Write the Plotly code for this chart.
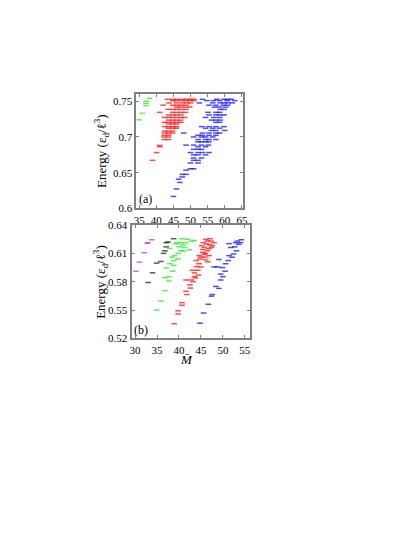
import plotly.graph_objects as go

# ---------------- panel (a) data ----------------
a_green_x = [35, 36, 37, 37, 37, 38]
a_green_y = [0.724, 0.733, 0.744, 0.747, 0.750, 0.754]

a_red_x = [43.3, 44.9, 46.1, 47.6, 48.9, 50.0, 51.0,
           44.8, 45.9, 47.4, 48.7, 49.8, 51.0,
           43.7, 45.9, 47.6, 48.9, 50.0,
           42.0, 44.8, 46.1, 47.4, 48.7,
           45.9, 47.1, 48.5, 49.8,
           43.5, 44.8, 45.9, 47.2, 48.7,
           41.0, 44.8, 46.1, 47.2, 48.5,
           43.6, 44.9, 45.9, 47.2,
           42.4, 43.6, 44.8, 45.9, 47.2, 48.3,
           43.6, 44.8, 45.9, 47.1,
           42.4, 43.6, 44.8, 46.1, 47.2,
           43.6, 44.8, 45.9,
           42.4, 43.6, 44.8, 45.9,
           43.5, 44.8, 45.9,
           42.4, 43.6, 44.8,
           42.4, 43.6, 44.8,
           42.3, 43.6,
           42.3, 43.6,
           42.3, 43.6,
           41.0, 41.0, 40.1, 38.9]
a_red_y = [0.7527] * 7 + [0.7509] * 6 + [0.7477] * 5 + [0.7445] * 5 + [0.7418] * 4 + \
          [0.7386] * 5 + [0.7345] * 5 + [0.7309] * 4 + [0.7273] * 6 + [0.7236] * 4 + \
          [0.7205] * 5 + [0.7182] * 3 + [0.7145] * 4 + [0.7123] * 3 + [0.7082] * 3 + \
          [0.7055] * 3 + [0.7023] * 2 + [0.7000] * 2 + [0.6964] * 2 + \
          [0.6882, 0.6864, 0.6782, 0.6673]

a_blue_x = [53.5, 57.7, 59.8, 60.9, 61.9,
            54.8, 56.7, 58.5, 60.7, 62.9,
            52.6, 56.5, 58.7, 59.8, 60.9, 62.2,
            55.4, 57.4, 59.6, 60.9,
            57.0, 58.5, 60.3,
            58.7, 59.8,
            55.1, 57.4, 58.5,
            55.4, 57.4, 58.5, 59.8,
            54.4, 56.8, 58.5,
            56.1, 57.4, 58.7,
            57.4, 58.5,
            53.3, 55.4, 57.4, 59.8,
            54.4, 56.5, 58.5,
            56.1, 57.4, 60.0,
            48.0, 53.5, 55.4, 57.4, 58.5,
            52.2, 53.5, 55.4, 57.4,
            50.9, 53.2, 54.4, 56.5,
            52.2, 54.4, 55.4, 57.4,
            52.2, 53.2, 54.4, 55.4,
            48.7, 50.9, 53.2, 55.2,
            52.2, 54.4,
            50.9, 52.2, 53.2,
            50.0, 52.2, 53.5, 55.4,
            50.9, 52.2, 54.4,
            50.9, 53.2,
            50.9, 52.2,
            50.0, 52.2,
            50.0, 50.9,
            48.7, 47.6, 48.7, 47.6, 46.5, 46.9, 45.9, 45.0]
a_blue_y = [0.7527] * 5 + [0.7509] * 5 + [0.7477] * 6 + [0.7445] * 4 + [0.7418] * 3 + \
           [0.7386] * 2 + [0.7345] * 3 + [0.7309] * 4 + [0.7273] * 3 + [0.7236] * 3 + \
           [0.7205] * 2 + [0.7145] * 4 + [0.7123] * 3 + [0.7091] * 3 + [0.7055] * 5 + \
           [0.7023] * 4 + [0.7000] * 4 + [0.6964] * 4 + [0.6932] * 4 + [0.6886] * 4 + \
           [0.6864] * 2 + [0.6827] * 3 + [0.6782] * 4 + [0.6750] * 3 + [0.6705] * 2 + \
           [0.6673] * 2 + [0.6636] * 2 + [0.6555] * 2 + \
           [0.6536, 0.6477, 0.6477, 0.6441, 0.6409, 0.6364, 0.6273, 0.6168]

# ---------------- panel (b) data ----------------
b_magenta_x = [30.2, 31.0, 32.1, 32.8, 33.8, 32.9]
b_magenta_y = [0.5911, 0.6007, 0.6107, 0.6206, 0.6244, 0.6213]

b_black_x = [33.0, 34.0, 34.9, 35.9, 36.5, 36.8, 37.1, 37.5, 38.8, 37.1]
b_black_y = [0.5791, 0.5894, 0.5997, 0.6014, 0.6100, 0.6127, 0.6169, 0.6220, 0.6255, 0.6213]

b_green_x = [34.9, 35.9, 36.8, 36.8, 37.7, 37.7, 37.1, 38.6, 38.8, 37.9, 38.8, 39.8, 39.0, 39.8, 40.4,
             41.0, 40.1, 41.3, 42.4, 39.6, 40.5, 41.6, 42.8, 43.5, 40.7, 39.4, 37.9, 38.4, 40.9, 41.9]
b_green_y = [0.5499, 0.5595, 0.5705, 0.5842, 0.5808, 0.5853, 0.5945, 0.5911, 0.5973, 0.5990, 0.6024,
             0.6042, 0.6076, 0.6100, 0.6127, 0.6127, 0.6169, 0.6162, 0.6138, 0.6213, 0.6213, 0.6213,
             0.6230, 0.6237, 0.6255, 0.6200, 0.6152, 0.6060, 0.6190, 0.6250]

b_red_x = [38.9, 39.8, 39.8, 40.7, 40.7, 41.6, 41.8, 42.5, 42.6, 41.6, 42.8, 43.5, 43.5, 43.1, 44.3,
           44.6, 43.9, 44.6, 45.4, 45.8, 45.5, 46.1, 46.5, 47.1, 48.0, 47.4, 46.5, 46.9, 46.1, 45.0,
           45.8, 44.8, 45.2, 46.3, 47.0, 45.4, 44.0, 43.2, 46.0, 46.8, 47.3, 45.0, 45.9, 46.6, 44.4,
           43.8, 47.6]
b_red_y = [0.5355, 0.5492, 0.5458, 0.5578, 0.5550, 0.5698, 0.5664, 0.5767, 0.5732, 0.5818, 0.5818,
           0.5853, 0.5894, 0.5921, 0.5921, 0.5990, 0.6024, 0.6076, 0.6110, 0.6162, 0.6213, 0.6248,
           0.6230, 0.6255, 0.6213, 0.6162, 0.6127, 0.6076, 0.6031, 0.5956, 0.6090, 0.6040, 0.6180,
           0.6200, 0.6190, 0.6140, 0.5960, 0.5800, 0.6100, 0.6150, 0.6230, 0.6060, 0.6060, 0.6010,
           0.5870, 0.5840, 0.6180]

b_blue_x = [44.8, 45.6, 46.7, 47.4, 47.6, 48.4, 49.1, 49.5, 50.0, 49.5, 50.5, 49.9, 48.0, 48.8,
            50.6, 51.2, 49.1, 52.1, 52.4, 51.4, 53.1, 51.8, 52.7, 53.6, 54.0, 53.3, 54.2, 52.9, 51.4]
b_blue_y = [0.5361, 0.5468, 0.5561, 0.5647, 0.5664, 0.5750, 0.5729, 0.5818, 0.5853, 0.5880, 0.5911,
            0.5949, 0.5956, 0.5956, 0.5990, 0.6024, 0.6035, 0.6059, 0.6093, 0.6076, 0.6127, 0.6162,
            0.6169, 0.6196, 0.6213, 0.6230, 0.6244, 0.6213, 0.6203]

# page body has an 8px margin; the figure is sized to fit inside the window
OFF = 8
W, H = 415 - 2 * OFF, 537 - 2 * OFF
FONT = "Liberation Serif"


def px_x(v):
    return (v - OFF) / W


def px_y(v):
    return 1 - (v - OFF) / H


def dash_trace(x, y, color, xa, ya):
    return go.Scatter(
        x=x, y=y, mode="markers", xaxis=xa, yaxis=ya, showlegend=False,
        marker=dict(symbol="line-ew", size=4, opacity=0.75,
                    line=dict(color=color, width=1.5)),
    )


fig = go.Figure()
fig.add_trace(dash_trace(a_green_x, a_green_y, "#22ee22", "x", "y"))
fig.add_trace(dash_trace(a_red_x, a_red_y, "#ff1010", "x", "y"))
fig.add_trace(dash_trace(a_blue_x, a_blue_y, "#1010ff", "x", "y"))
fig.add_trace(dash_trace(b_magenta_x, b_magenta_y, "#c040c0", "x2", "y2"))
fig.add_trace(dash_trace(b_black_x, b_black_y, "#202020", "x2", "y2"))
fig.add_trace(dash_trace(b_green_x, b_green_y, "#22ee22", "x2", "y2"))
fig.add_trace(dash_trace(b_red_x, b_red_y, "#ff1010", "x2", "y2"))
fig.add_trace(dash_trace(b_blue_x, b_blue_y, "#1010ff", "x2", "y2"))

ax_common = dict(showline=True, linecolor="#808080", linewidth=2, mirror="ticks",
                 ticks="inside", ticklen=3, tickcolor="#808080", tickwidth=1,
                 showgrid=False, zeroline=False,
                 tickfont=dict(family=FONT, size=11, color="black"))

fig.update_layout(
    width=W, height=H, margin=dict(l=0, r=0, t=0, b=0),
    paper_bgcolor="white", plot_bgcolor="white",
    font=dict(family=FONT, color="black"),
    xaxis=dict(domain=[px_x(136), px_x(245)], range=[34.2, 65.4], tick0=35, dtick=5, anchor="y",
               **ax_common),
    yaxis=dict(domain=[px_y(207), px_y(90)], range=[0.6, 0.76], tickvals=[0.6, 0.65, 0.7, 0.75],
               ticktext=["0.6", "0.65", "0.7", "0.75"], anchor="x", **ax_common),
    xaxis2=dict(domain=[px_x(131), px_x(252)], range=[29.2, 56.2], tick0=30, dtick=5, anchor="y2",
                **ax_common),
    yaxis2=dict(domain=[px_y(340), px_y(224)], range=[0.52, 0.64],
                tickvals=[0.52, 0.55, 0.58, 0.61, 0.64], anchor="x2", **ax_common),
)

ylab = "Energy (ε<sub>d</sub>/ℓ<sup>3</sup>)"


def ann(text, px, py, size=12, angle=0):
    fig.add_annotation(text=text, xref="paper", yref="paper", x=px_x(px), y=px_y(py),
                       xanchor="center", yanchor="middle", textangle=angle,
                       showarrow=False, font=dict(family=FONT, size=size))


ann(ylab, 100, 148, 13, -90)
ann(ylab, 99, 282, 13, -90)
ann("(a)", 145, 197, 12)
ann("(b)", 141, 331, 12)
ann("<i>M\u0304</i>", 187, 362, 13)

fig.write_html("out.html")
